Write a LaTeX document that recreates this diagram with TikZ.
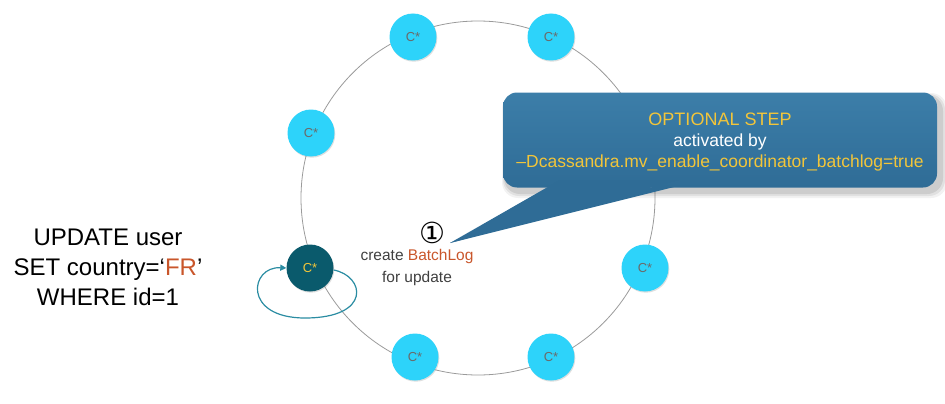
\documentclass[tikz,border=0pt]{standalone}
\usepackage{fontspec}
\setmainfont{Liberation Sans}
\newfontfamily\symfont{DejaVu Sans}
\usetikzlibrary{shadows,arrows.meta,calc}
\definecolor{cyanc}{HTML}{2DD3FA}
\definecolor{darkc}{HTML}{0A5A6C}
\definecolor{calloutc}{HTML}{3C7EA9}
\definecolor{calloutd}{HTML}{2F6C96}
\definecolor{yel}{HTML}{F2C53A}
\definecolor{orangec}{HTML}{C9562B}
\definecolor{loopc}{HTML}{2A8CA2}
\definecolor{ringc}{HTML}{9A9A9A}
\definecolor{labc}{HTML}{6A6A6A}
\begin{document}
\begin{tikzpicture}[x=1pt,y=-1pt,
  cnode/.style={circle,fill=cyanc,minimum size=47pt,inner sep=0pt,
    font=\fontsize{13}{14}\selectfont,text=labc,
    drop shadow={shadow xshift=0.8pt,shadow yshift=-1.2pt,opacity=0.25}},
  dnode/.style={cnode,fill=darkc,text=yel},
  sqltext/.style={align=center,font=\fontsize{24}{30}\selectfont,text=black},
  steptext/.style={align=center,font=\fontsize{15.5}{22}\selectfont,text=black!75}]
\useasboundingbox (0,0) rectangle (945,404);
% ring
\coordinate (ctr) at (478,198);
\draw[ringc,line width=0.8pt] (ctr) circle[radius=177];
% nodes
\node[cnode] (n1) at (413,37) {C*};
\node[cnode] (n2) at (551,37) {C*};
\node[cnode] (n3) at (311,133) {C*};
\node[dnode] (n4) at (310,268) {C*};
\node[cnode] (n5) at (645,268) {C*};
\node[cnode] (n6) at (415,357) {C*};
\node[cnode] (n7) at (551,357) {C*};
% self loop
\draw[loopc,line width=1.2pt,-{Triangle[length=6pt,width=6pt]}]
  ($(n4.east)+(0,2)$) .. controls (365,276) and (372,318) .. (305,318)
  .. controls (242,318) and (250,266) .. (n4.west);
% callout shadow
\foreach \d/\o in {6/0.05,4/0.07,2/0.09}{
  \fill[black,opacity=\o,rounded corners=16pt] (505-\d/2,96-\d/2) rectangle (941+\d,192+\d);}
\path[fill=calloutd] (552,192) -- (450,243) -- (678,186) -- cycle;
\node[draw=none,rounded corners=14pt,minimum width=434pt,minimum height=95pt,
  top color=calloutc,bottom color=calloutd,inner sep=0pt] (box) at (720,140) {};
\path[fill=calloutd] (560,180) -- (450,243) -- (678,180) -- cycle;
\node[align=center,font=\fontsize{17.5}{22}\selectfont] (boxtxt) at (720,142)
  {\textcolor{yel}{\fontsize{18}{20}\selectfont OPTIONAL STEP}\\[-1pt]
   \textcolor{white}{activated by}\\[-1pt]
   \textcolor{yel}{--Dcassandra.mv\_enable\_coordinator\_batchlog=true}};
% step text
\node[font=\symfont\fontsize{29}{30}\selectfont,text=black] (one) at (432,233) {①};
\node[steptext,anchor=north] (step) at (417,246)
  {create \textcolor{orangec}{BatchLog}\\for update};
% sql
\node[sqltext] (sql) at (108,267)
  {UPDATE user\\SET country=‘\textcolor{orangec}{FR}’\\WHERE id=1};
\end{tikzpicture}
\end{document}
